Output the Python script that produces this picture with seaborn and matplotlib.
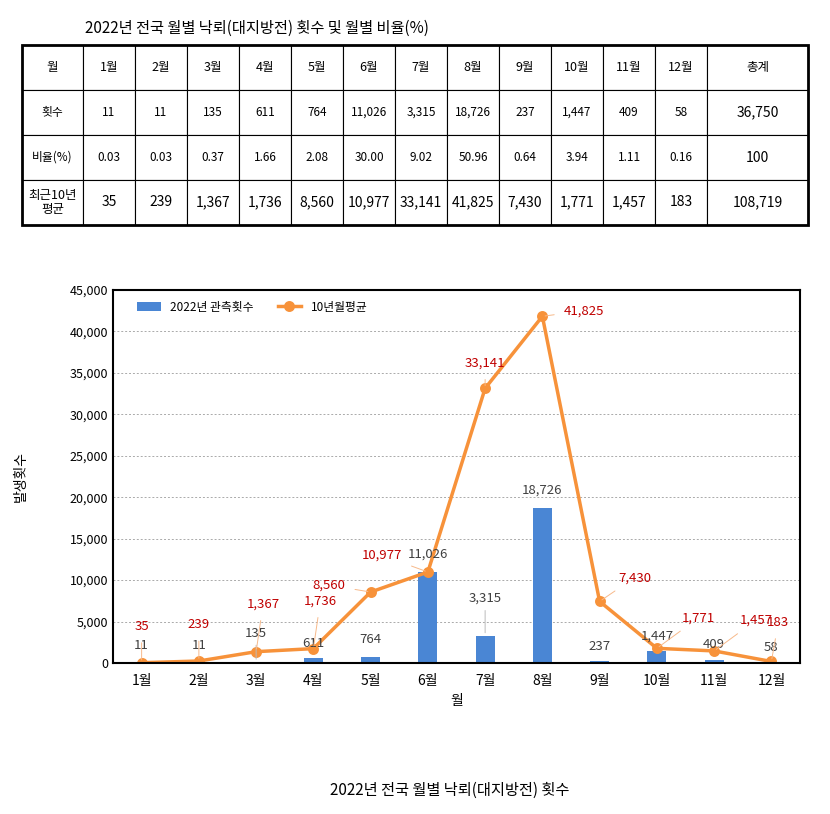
import matplotlib
matplotlib.use("Agg")
import matplotlib.pyplot as plt
from matplotlib import font_manager as fm
import seaborn as sns
import pandas as pd

names = sorted({f.name for f in fm.fontManager.ttflist if "CJK" in f.name})
pick = next((n for n in names if "KR" in n), names[0] if names else "DejaVu Sans")
plt.rcParams["font.family"] = [pick, "DejaVu Sans"]

months = ["1월","2월","3월","4월","5월","6월","7월","8월","9월","10월","11월","12월"]
counts_2022 = [11, 11, 135, 611, 764, 11026, 3315, 18726, 237, 1447, 409, 58]
ratio = ["0.03","0.03","0.37","1.66","2.08","30.00","9.02","50.96","0.64","3.94","1.11","0.16"]
avg10 = [35, 239, 1367, 1736, 8560, 10977, 33141, 41825, 7430, 1771, 1457, 183]
total_2022 = "36,750"
total_ratio = "100"
total_avg = "108,719"

fig = plt.figure(figsize=(8.3, 8.14), dpi=100)
W, H = 830, 814

def fx(x): return x / W
def fy(y): return 1 - y / H

fig.text(fx(85), fy(28), "2022년 전국 월별 낙뢰(대지방전) 횟수 및 월별 비율(%)", fontsize=11, va="center")

tax = fig.add_axes([fx(22), fy(225), fx(808-22), (225-45)/H])
tax.axis("off")
cells = [["월"] + months + ["총계"],
         ["횟수"] + [f"{v:,}" for v in counts_2022] + [total_2022],
         ["비율(%)"] + ratio + [total_ratio],
         ["최근10년\n평균"] + [f"{v:,}" for v in avg10] + [total_avg]]
widths = [61] + [52]*12
widths.append((808-22) - sum(widths))
tbl = tax.table(cellText=cells, colWidths=[w/sum(widths) for w in widths],
                cellLoc="center", bbox=[0, 0, 1, 1])
tbl.auto_set_font_size(False)
for (r, c), cell in tbl.get_celld().items():
    cell.set_linewidth(0.8)
    fs = 8.5
    if r == 0: fs = 9
    if r == 3 or (c == 13 and r > 0): fs = 10
    if r == 3 and c == 0: fs = 9
    cell.get_text().set_fontsize(fs)
tax.add_patch(plt.Rectangle((0, 0), 1, 1, fill=False, lw=2, transform=tax.transAxes, clip_on=False))

ax = fig.add_axes([fx(113), fy(663), fx(800-113), (663-290)/H])
df = pd.DataFrame({"month": months, "count": counts_2022, "avg": avg10})
sns.barplot(data=df, x="month", y="count", color="#4a86d4", width=0.33, ax=ax,
            label="2022년 관측횟수", saturation=1)
sns.pointplot(data=df, x="month", y="avg", color="#f7923a", markers="o", ax=ax,
              label="10년월평균", linewidth=2.5, markersize=6)
ax.set_ylim(0, 45000)
ax.set_yticks(range(0, 45001, 5000))
ax.set_yticklabels([f"{v:,}" for v in range(0, 45001, 5000)], fontsize=9)
ax.tick_params(axis="x", labelsize=10, length=0, pad=8)
ax.tick_params(axis="y", length=0)
ax.grid(axis="y", color="#aaaaaa", linestyle=(0, (2, 2)), lw=0.7)
ax.set_axisbelow(True)
for s in ax.spines.values():
    s.set_linewidth(1.5)
ax.set_xlabel("월", fontsize=10)
ax.set_ylabel("발생횟수", fontsize=10, labelpad=30)
h, l = ax.get_legend_handles_labels()
order = [l.index("2022년 관측횟수"), l.index("10년월평균")]
ax.legend([h[i] for i in order], [l[i] for i in order], loc="upper left", frameon=False,
          fontsize=8.5, ncol=2, bbox_to_anchor=(0.02, 1.0))

bar_off = {0:(0,8),1:(0,8),2:(0,16),3:(0,6),4:(0,8),5:(0,8),6:(0,22),7:(0,8),8:(0,6),9:(0,6),10:(0,6),11:(0,6)}
for i, v in enumerate(counts_2022):
    dx, dy = bar_off[i]
    ax.annotate(f"{v:,}", (i, v), xytext=(dx, dy), textcoords="offset points",
                ha="center", va="bottom", fontsize=9.5, color="#404040",
                arrowprops=dict(arrowstyle="-", color="#bbbbbb", lw=0.7) if dy > 12 else None)

line_off = {0:(0,26),1:(0,26),2:(5,34),3:(5,34),4:(-30,5),5:(-33,12),6:(0,18),7:(30,4),8:(25,17),9:(30,22),10:(30,22),11:(5,28)}
for i, v in enumerate(avg10):
    dx, dy = line_off[i]
    ax.annotate(f"{v:,}", (i, v), xytext=(dx, dy), textcoords="offset points",
                ha="center", va="center", fontsize=9.5, color="#c00000",
                arrowprops=dict(arrowstyle="-", color="#f7b98a", lw=0.7, shrinkA=5, shrinkB=2))

fig.text(fx(450), fy(790), "2022년 전국 월별 낙뢰(대지방전) 횟수", fontsize=11, ha="center", va="center")
fig.savefig("out.png", dpi=100)
